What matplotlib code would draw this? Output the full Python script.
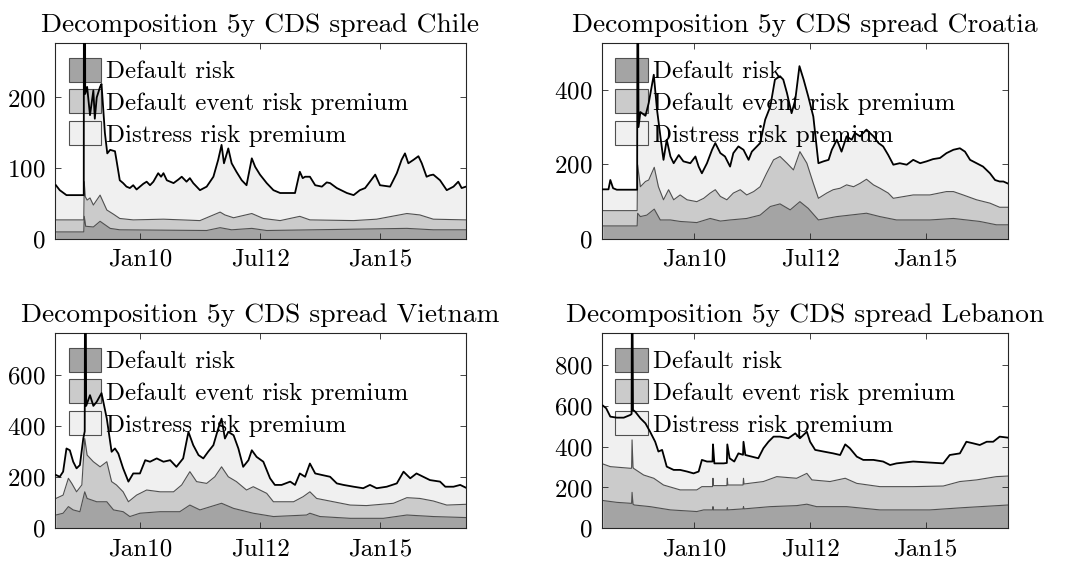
import numpy as np
import matplotlib
matplotlib.use("Agg")
import matplotlib.pyplot as plt
from matplotlib.patches import Patch

plt.rcParams['font.family'] = 'cmr10'
plt.rcParams['mathtext.fontset'] = 'cm'
plt.rcParams['axes.formatter.use_mathtext'] = True

# --- Chile (decimal years, bp) ---
chile_total_t = [2008.24, 2008.32, 2008.46, 2008.78, 2008.82, 2008.83, 2008.85, 2008.89, 2008.95, 2009.02,
                 2009.05, 2009.09, 2009.16, 2009.19, 2009.26, 2009.31, 2009.37, 2009.47, 2009.50, 2009.57,
                 2009.64, 2009.71, 2009.78, 2009.85, 2009.92, 2009.99, 2010.06, 2010.13, 2010.20, 2010.27,
                 2010.37, 2010.43, 2010.48, 2010.55, 2010.69, 2010.79, 2010.86, 2010.96, 2011.03, 2011.10,
                 2011.24, 2011.38, 2011.52, 2011.62, 2011.69, 2011.74, 2011.83, 2011.90, 2012.00, 2012.11,
                 2012.21, 2012.32, 2012.39, 2012.49, 2012.63, 2012.77, 2012.91, 2013.12, 2013.22, 2013.32,
                 2013.38, 2013.43, 2013.53, 2013.64, 2013.78, 2013.88, 2013.95, 2014.09, 2014.30, 2014.44,
                 2014.57, 2014.68, 2014.78, 2014.89, 2014.99, 2015.20, 2015.34, 2015.44, 2015.51, 2015.58,
                 2015.69, 2015.79, 2015.86, 2015.96, 2016.03, 2016.10, 2016.24, 2016.38, 2016.52, 2016.62,
                 2016.69, 2016.78]
chile_total = [76, 69, 62, 62, 62, 1000, 205, 215, 175, 210,
               170, 200, 215, 219, 150, 121, 126, 124, 112, 83,
               79, 74, 72, 76, 70, 74, 78, 81, 76, 81,
               93, 88, 93, 83, 79, 84, 88, 81, 86, 79,
               69, 74, 88, 112, 133, 107, 128, 107, 95, 83,
               76, 114, 102, 91, 79, 69, 65, 65, 65, 95,
               86, 88, 88, 76, 74, 80, 79, 72, 65, 62,
               69, 72, 81, 91, 76, 74, 93, 112, 121, 107,
               112, 117, 107, 88, 90, 91, 83, 69, 74, 81,
               72, 74]
chile_mid_t = [2008.24, 2008.82, 2008.83, 2008.85, 2008.89, 2008.95, 2009.02, 2009.09, 2009.16, 2009.30,
               2009.44, 2009.57, 2009.85, 2010.48, 2011.24, 2011.66, 2011.76, 2011.94, 2012.32, 2012.56,
               2012.91, 2013.32, 2013.53, 2014.44, 2014.92, 2015.55, 2015.82, 2016.10, 2016.78]
chile_mid = [27, 27, 81, 60, 55, 58, 48, 55, 62, 41,
             35, 29, 27, 28, 26, 38, 34, 30, 36, 29,
             26, 32, 27, 26, 28, 36, 34, 28, 27]
chile_dr_t = [2008.24, 2008.82, 2008.83, 2008.86, 2009.02, 2009.16, 2009.37, 2009.57, 2011.38, 2011.66,
              2011.90, 2012.32, 2012.63, 2015.55, 2016.10, 2016.78]
chile_dr = [10, 10, 32, 18, 17, 25, 15, 13, 12, 16,
            13, 15, 12, 15, 13, 13]

# --- Croatia ---
croatia_total_t = [2008.02, 2008.14, 2008.18, 2008.24, 2008.32, 2008.72, 2008.76, 2008.77, 2008.79, 2008.83,
                   2008.94, 2009.01, 2009.12, 2009.19, 2009.30, 2009.33, 2009.40, 2009.48, 2009.55, 2009.66,
                   2009.76, 2009.91, 2010.02, 2010.09, 2010.16, 2010.27, 2010.38, 2010.45, 2010.56, 2010.66,
                   2010.77, 2010.84, 2010.95, 2011.06, 2011.17, 2011.24, 2011.42, 2011.53, 2011.64, 2011.74,
                   2011.85, 2011.92, 2012.00, 2012.10, 2012.18, 2012.27, 2012.36, 2012.46, 2012.57, 2012.68,
                   2012.79, 2012.90, 2012.97, 2013.08, 2013.18, 2013.29, 2013.40, 2013.47, 2013.58, 2013.72,
                   2013.87, 2013.98, 2014.08, 2014.19, 2014.30, 2014.44, 2014.59, 2014.73, 2014.88, 2015.02,
                   2015.16, 2015.31, 2015.45, 2015.60, 2015.74, 2015.85, 2015.96, 2016.10, 2016.24, 2016.39,
                   2016.50, 2016.60, 2016.68, 2016.77]
croatia_total = [133, 133, 158, 136, 132, 132, 132, 1000, 300, 340,
                 330, 364, 440, 346, 239, 212, 266, 221, 203, 225,
                 208, 203, 221, 194, 176, 203, 239, 257, 230, 221,
                 194, 230, 248, 239, 212, 234, 257, 320, 355, 427,
                 436, 427, 391, 337, 373, 463, 427, 382, 328, 203,
                 208, 212, 239, 266, 234, 275, 266, 284, 275, 293,
                 275, 257, 248, 225, 199, 203, 199, 212, 203, 208,
                 214, 217, 230, 239, 243, 234, 212, 203, 194, 176,
                 158, 154, 154, 149]
croatia_mid_t = [2008.02, 2008.76, 2008.77, 2008.83, 2008.94, 2009.01, 2009.13, 2009.22, 2009.33, 2009.44,
                 2009.55, 2009.69, 2009.84, 2010.05, 2010.20, 2010.34, 2010.45, 2010.56, 2010.70, 2010.84,
                 2010.99, 2011.13, 2011.28, 2011.42, 2011.56, 2011.71, 2011.85, 2012.00, 2012.14, 2012.28,
                 2012.43, 2012.57, 2012.68, 2012.86, 2013.00, 2013.15, 2013.29, 2013.44, 2013.58, 2013.72,
                 2013.87, 2014.01, 2014.19, 2014.30, 2014.73, 2015.09, 2015.45, 2015.60, 2015.81, 2016.10,
                 2016.39, 2016.60, 2016.78]
croatia_mid = [76, 76, 199, 140, 154, 158, 192, 140, 105, 132,
               105, 118, 105, 100, 109, 123, 132, 114, 105, 123,
               132, 118, 127, 140, 176, 212, 221, 203, 185, 234,
               203, 149, 109, 123, 132, 136, 145, 140, 149, 160,
               145, 136, 123, 109, 118, 118, 127, 127, 118, 105,
               96, 85, 85]
croatia_dr_t = [2008.02, 2008.76, 2008.77, 2008.83, 2008.97, 2009.13, 2009.26, 2009.48, 2009.69, 2010.05,
                2010.34, 2010.56, 2010.77, 2011.13, 2011.42, 2011.64, 2011.85, 2012.07, 2012.28, 2012.46,
                2012.68, 2013.08, 2013.72, 2014.01, 2014.37, 2015.09, 2015.60, 2016.17, 2016.53, 2016.78]
croatia_dr = [35, 35, 69, 60, 64, 80, 51, 51, 47, 44,
              55, 48, 51, 55, 64, 87, 94, 78, 100, 82,
              51, 60, 69, 60, 51, 51, 55, 47, 38, 38]

# --- Vietnam ---
vietnam_total_t = [2008.24, 2008.32, 2008.39, 2008.46, 2008.53, 2008.60, 2008.67, 2008.74, 2008.81, 2008.84,
                   2008.85, 2008.87, 2008.95, 2009.02, 2009.09, 2009.19, 2009.30, 2009.40, 2009.47, 2009.54,
                   2009.64, 2009.75, 2009.85, 2009.99, 2010.10, 2010.20, 2010.34, 2010.48, 2010.62, 2010.75,
                   2010.89, 2011.00, 2011.10, 2011.21, 2011.31, 2011.41, 2011.52, 2011.62, 2011.69, 2011.76,
                   2011.83, 2011.94, 2012.04, 2012.14, 2012.25, 2012.32, 2012.42, 2012.56, 2012.70, 2012.80,
                   2012.94, 2013.12, 2013.22, 2013.32, 2013.43, 2013.53, 2013.64, 2013.78, 2013.95, 2014.09,
                   2014.23, 2014.44, 2014.64, 2014.78, 2014.92, 2015.13, 2015.34, 2015.48, 2015.62, 2015.75,
                   2015.89, 2016.03, 2016.24, 2016.35, 2016.52, 2016.66, 2016.78]
vietnam_total = [209, 202, 222, 313, 306, 261, 235, 248, 352, 380,
                 1500, 480, 522, 480, 496, 530, 430, 300, 313, 293,
                 235, 183, 215, 215, 267, 261, 274, 261, 267, 241,
                 274, 378, 326, 287, 274, 300, 326, 391, 430, 352,
                 378, 365, 313, 241, 267, 306, 280, 261, 196, 170,
                 170, 183, 170, 215, 202, 254, 215, 209, 202, 176,
                 170, 163, 157, 170, 157, 163, 176, 222, 196, 215,
                 202, 189, 183, 163, 163, 170, 159]
vietnam_mid_t = [2008.24, 2008.39, 2008.50, 2008.57, 2008.67, 2008.78, 2008.84, 2008.89, 2009.02, 2009.16,
                 2009.30, 2009.40, 2009.50, 2009.64, 2009.75, 2009.92, 2010.13, 2010.41, 2010.69, 2010.86,
                 2011.03, 2011.17, 2011.38, 2011.55, 2011.69, 2011.83, 2012.00, 2012.21, 2012.35, 2012.63,
                 2012.77, 2013.19, 2013.39, 2013.53, 2013.67, 2014.02, 2014.37, 2014.71, 2015.27, 2015.55,
                 2015.82, 2016.10, 2016.38, 2016.78]
vietnam_mid = [117, 130, 196, 176, 143, 170, 352, 287, 261, 241,
               261, 183, 170, 143, 104, 130, 150, 143, 143, 170,
               222, 183, 176, 202, 241, 202, 183, 150, 163, 137,
               104, 104, 124, 143, 117, 104, 91, 89, 98, 120,
               117, 107, 91, 94]
vietnam_dr_t = [2008.24, 2008.39, 2008.50, 2008.60, 2008.74, 2008.84, 2008.89, 2009.09, 2009.30, 2009.44,
                2009.64, 2009.78, 2009.99, 2010.41, 2010.82, 2011.03, 2011.24, 2011.69, 2011.94, 2012.35,
                2012.77, 2013.46, 2013.53, 2013.74, 2014.37, 2015.06, 2015.55, 2016.10, 2016.78]
vietnam_dr = [52, 59, 85, 72, 65, 143, 117, 104, 104, 72,
              65, 46, 59, 65, 65, 91, 72, 98, 78, 59,
              46, 52, 59, 46, 39, 39, 52, 46, 42]

# --- Lebanon ---
lebanon_total_t = [2008.02, 2008.09, 2008.18, 2008.32, 2008.47, 2008.61, 2008.64, 2008.65, 2008.67, 2008.72,
                   2008.83, 2008.94, 2009.04, 2009.15, 2009.22, 2009.30, 2009.40, 2009.55, 2009.69, 2009.84,
                   2009.98, 2010.09, 2010.16, 2010.27, 2010.39, 2010.40, 2010.43, 2010.63, 2010.70, 2010.71,
                   2010.76, 2010.86, 2010.95, 2011.05, 2011.06, 2011.10, 2011.24, 2011.38, 2011.49, 2011.60,
                   2011.71, 2011.85, 2012.03, 2012.18, 2012.28, 2012.43, 2012.50, 2012.61, 2012.79, 2013.00,
                   2013.15, 2013.26, 2013.36, 2013.51, 2013.65, 2013.87, 2014.08, 2014.23, 2014.37, 2014.73,
                   2015.09, 2015.38, 2015.52, 2015.74, 2015.88, 2016.03, 2016.17, 2016.32, 2016.46, 2016.60,
                   2016.78]
lebanon_total = [601, 588, 547, 542, 542, 555, 560, 1500, 580, 571,
                 539, 514, 473, 424, 376, 384, 302, 286, 286, 278,
                 269, 278, 335, 327, 327, 411, 318, 318, 320, 411,
                 343, 327, 367, 360, 424, 359, 351, 343, 392, 424,
                 449, 449, 441, 465, 441, 473, 424, 384, 376, 367,
                 359, 411, 392, 351, 335, 335, 327, 310, 318, 327,
                 322, 318, 359, 367, 424, 416, 408, 424, 424, 449,
                 444]
lebanon_mid_t = [2008.02, 2008.18, 2008.61, 2008.64, 2008.65, 2008.67, 2008.68, 2008.90, 2009.12, 2009.33,
                 2009.69, 2010.05, 2010.16, 2010.39, 2010.40, 2010.41, 2010.70, 2010.71, 2010.72, 2011.05,
                 2011.06, 2011.07, 2011.49, 2011.78, 2012.21, 2012.43, 2012.54, 2012.93, 2013.26, 2013.51,
                 2014.01, 2014.73, 2015.38, 2015.74, 2016.10, 2016.53, 2016.78]
lebanon_mid = [315, 302, 294, 294, 433, 300, 294, 261, 245, 212,
               188, 188, 204, 204, 245, 209, 209, 245, 212, 212,
               245, 217, 229, 253, 245, 269, 237, 229, 245, 220,
               204, 204, 207, 229, 237, 253, 256]
lebanon_dr_t = [2008.02, 2008.32, 2008.64, 2008.65, 2008.67, 2008.70, 2009.04, 2009.48, 2010.05, 2010.20,
                2010.39, 2010.40, 2010.41, 2010.70, 2010.71, 2010.72, 2011.05, 2011.06, 2011.07, 2011.64,
                2012.21, 2012.43, 2012.64, 2013.29, 2014.01, 2015.09, 2015.81, 2016.78]
lebanon_dr = [136, 127, 122, 176, 118, 114, 106, 90, 82, 90,
              90, 106, 90, 90, 101, 90, 95, 106, 95, 106,
              111, 118, 106, 106, 90, 90, 101, 114]

countries = ['Chile', 'Croatia', 'Vietnam', 'Lebanon']
tick_years = [2010.0, 2012.5, 2015.0]
tick_names = ['Jan10', 'Jul12', 'Jan15']
legend_names = ['Default risk', 'Default event risk premium', 'Distress risk premium']

c_dark, c_mid, c_light = '#a4a4a4', '#cbcbcb', '#f0f0f0'
edge = '#505050'

panels = [
    (chile_total_t, chile_total, chile_mid_t, chile_mid, chile_dr_t, chile_dr,
     (2008.22, 2016.78), 277, [0, 100, 200], [0.0515, 0.577, 0.3852, 0.3469]),
    (croatia_total_t, croatia_total, croatia_mid_t, croatia_mid, croatia_dr_t, croatia_dr,
     (2008.0, 2016.78), 525, [0, 200, 400], [0.5642, 0.577, 0.3805, 0.3469]),
    (vietnam_total_t, vietnam_total, vietnam_mid_t, vietnam_mid, vietnam_dr_t, vietnam_dr,
     (2008.22, 2016.78), 766, [0, 200, 400, 600], [0.0515, 0.065, 0.3852, 0.3457]),
    (lebanon_total_t, lebanon_total, lebanon_mid_t, lebanon_mid, lebanon_dr_t, lebanon_dr,
     (2008.0, 2016.78), 957, [0, 200, 400, 600, 800], [0.5642, 0.065, 0.3805, 0.3457]),
]

fig = plt.figure(figsize=(10.67, 5.65), dpi=100)

for name, (tt, tot, tm, mid, td, dr, xlim, ytop, yticks, pos) in zip(countries, panels):
    ax = fig.add_axes(pos)
    # painted back to front: total, then default+event, then default risk
    ax.fill_between(tt, 0, tot, color=c_light, lw=0)
    ax.fill_between(tm, 0, mid, color=c_mid, lw=0)
    ax.plot(tm, mid, color=edge, lw=0.8)
    ax.fill_between(td, 0, dr, color=c_dark, lw=0)
    ax.plot(td, dr, color=edge, lw=0.8)
    ax.plot(tt, tot, color='black', lw=1.3, zorder=6)

    ax.set_xlim(*xlim)
    ax.set_ylim(0, ytop)
    ax.set_xticks(tick_years)
    ax.set_xticklabels(tick_names)
    ax.set_yticks(yticks)
    ax.tick_params(direction='in', top=True, right=True, length=4, width=0.6,
                   color='#262626', labelsize=18, pad=7)
    for s in ax.spines.values():
        s.set_color('#262626')
        s.set_linewidth(0.8)
    ax.set_title('Decomposition 5y CDS spread ' + name, fontsize=19.8, pad=8)

    handles = [Patch(facecolor=c, edgecolor=edge, lw=0.8) for c in (c_dark, c_mid, c_light)]
    leg = ax.legend(handles, legend_names, loc='upper left', bbox_to_anchor=(0.033, 0.925),
                    frameon=False, fontsize=18, handlelength=1.3, handleheight=1.1,
                    handletextpad=0.2, labelspacing=0.25, borderpad=0, borderaxespad=0)
    leg.set_zorder(5)

fig.savefig('out.png', dpi=100)
